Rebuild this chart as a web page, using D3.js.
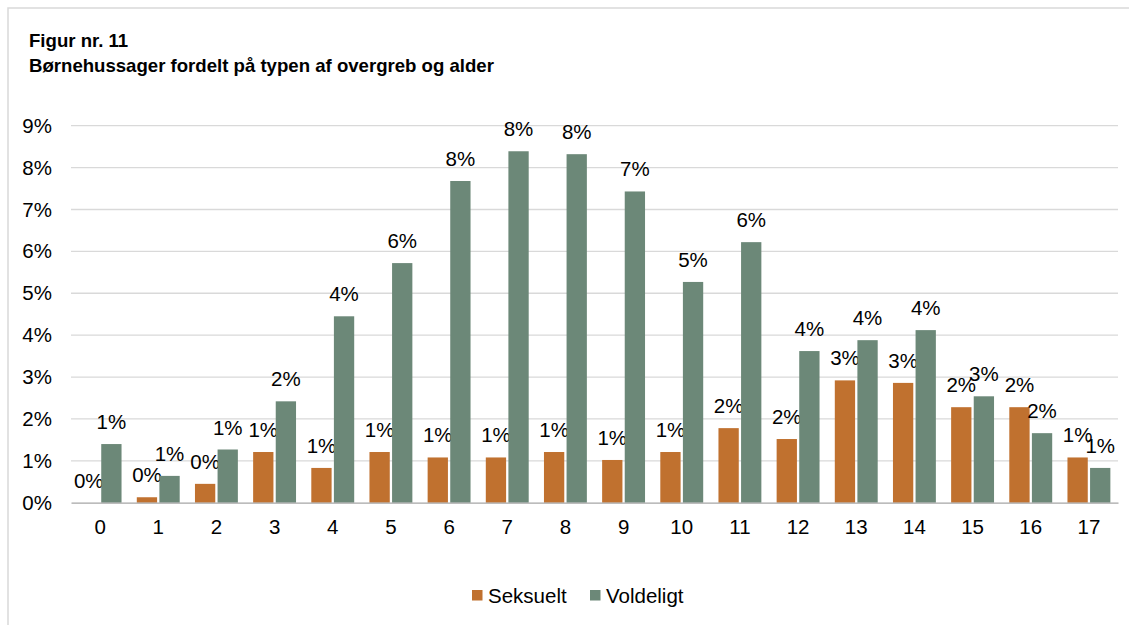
<!DOCTYPE html>
<html><head><meta charset="utf-8">
<script src="https://cdn.jsdelivr.net/npm/d3@7"></script>
<style>body{margin:0;background:#fff}svg{display:block}text{font-family:"Liberation Sans",Arial,sans-serif}</style>
</head><body>
<svg id="c" width="1129" height="625"></svg>
<script>
const categories = ["0","1","2","3","4","5","6","7","8","9","10","11","12","13","14","15","16","17"];
const seriesNames = ["Seksuelt","Voldeligt"];
const seksuelt = [0.0,0.13,0.45,1.21,0.83,1.21,1.08,1.08,1.21,1.02,1.21,1.78,1.52,2.92,2.86,2.28,2.28,1.08];
const voldeligt = [1.40,0.64,1.27,2.42,4.45,5.72,7.68,8.39,8.32,7.43,5.27,6.22,3.62,3.88,4.12,2.54,1.66,0.83];
const yTicks = [0,1,2,3,4,5,6,7,8,9];
const colors = ["#C0712F","#6C8878"];
const titleLines = ["Figur nr. 11","Børnehussager fordelt på typen af overgreb og alder"];

const FS = 20.5;
const svg = d3.select("#c");
svg.append("rect").attr("x",8).attr("y",8).attr("width",1300).attr("height",800)
  .attr("fill","#fff").attr("stroke","#d9d9d9").attr("stroke-width",1.5);

svg.append("text").attr("x",29).attr("y",47).attr("font-size",18.6).attr("font-weight","bold").text(titleLines[0]);
svg.append("text").attr("x",29).attr("y",72).attr("font-size",18.6).attr("font-weight","bold").text(titleLines[1]);

const x = d3.scaleBand().domain(categories).range([71,1118]);
const y = d3.scaleLinear().domain([0,9]).range([502.7,125.7]);
const bw = 20.3, gap = 2.3;

const grid = svg.append("g");
yTicks.forEach(t=>{
  if(t>0) grid.append("line").attr("x1",71).attr("x2",1118).attr("y1",y(t)).attr("y2",y(t))
    .attr("stroke","#d9d9d9").attr("stroke-width",1.3);
});
const yAxis = svg.append("g").attr("transform","translate(52,0)")
  .call(d3.axisLeft(y).tickValues(yTicks).tickFormat(d=>d+"%").tickSize(0).tickPadding(0));
yAxis.select(".domain").remove();
yAxis.selectAll("text").attr("font-size",FS).attr("fill","#000").attr("font-family","Liberation Sans, Arial, sans-serif");

const data = [seksuelt, voldeligt];
const fmt = d3.format(".0%");
data.forEach((vals,si)=>{
  const off = si===0 ? -gap/2 - bw : gap/2;
  const g = svg.append("g");
  g.selectAll("rect").data(vals).join("rect")
    .attr("x",(d,i)=>x(categories[i])+x.bandwidth()/2+off)
    .attr("width",bw)
    .attr("y",d=>y(d)).attr("height",d=>y(0)-y(d))
    .attr("fill",colors[si]);
  g.selectAll("text").data(vals).join("text")
    .attr("x",(d,i)=>x(categories[i])+x.bandwidth()/2+off+bw/2)
    .attr("y",d=>y(d)-15)
    .attr("text-anchor","middle").attr("font-size",FS).attr("fill","#000")
    .text(d=>fmt(d/100));
});

const xAxis = svg.append("g").attr("transform","translate(0,"+y(0)+")")
  .call(d3.axisBottom(x).tickSize(0).tickPadding(17));
xAxis.select(".domain").attr("stroke","#a6a6a6").attr("stroke-width",1.3);
xAxis.selectAll("text").attr("font-size",FS).attr("fill","#000").attr("font-family","Liberation Sans, Arial, sans-serif");

const leg = svg.append("g");
const legX = [472, 590];
seriesNames.forEach((n,i)=>{
  leg.append("rect").attr("x",legX[i]).attr("y",590).attr("width",10.5).attr("height",10.5).attr("fill",colors[i]);
  leg.append("text").attr("x",legX[i]+16).attr("y",602.5).attr("font-size",FS).text(n);
});
</script>
</body></html>
